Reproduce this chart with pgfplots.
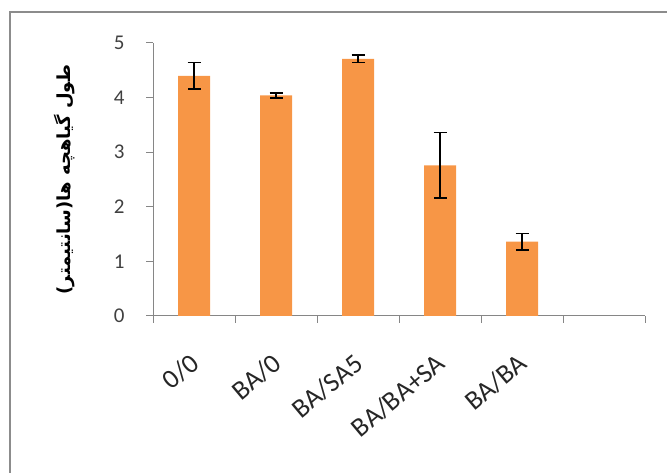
\documentclass[border=0pt]{standalone}
\usepackage{pgfplots}
\pgfplotsset{compat=1.18}
\usepackage{fontspec}
\setmainfont{Carlito}
\newfontfamily\persian[Script=Arabic]{DejaVu Sans}
\TeXXeTstate=1
\definecolor{barorange}{HTML}{F79646}
\definecolor{axisgray}{HTML}{868686}
\definecolor{ticktext}{HTML}{404040}
\definecolor{framegray}{HTML}{8C8C8C}
\begin{document}
\begin{tikzpicture}
\useasboundingbox (0pt,0pt) rectangle (667pt,473pt);
\draw[color=framegray, line width=1.5pt] (10pt,-10pt) -- (10pt,461pt) -- (700pt,461pt);
\begin{axis}[
  at={(153pt,157pt)}, anchor=south west,
  scale only axis, width=492pt, height=273pt,
  xmin=-0.5, xmax=5.5, ymin=0, ymax=5,
  axis x line=bottom, axis y line=left,
  axis line style={-, color=axisgray, line width=1pt},
  tick align=outside, major tick length=7pt,
  tick style={color=axisgray, line width=1pt},
  /pgf/number format/assume math mode=true,
  ytick={0,1,2,3,4,5},
  xtick={-0.5,0.5,1.5,2.5,3.5,4.5,5.5},
  x tick label as interval,
  xticklabels={0/0,BA/0,BA/SA5,BA/BA+SA,BA/BA,{}},
  y tick label style={font=\fontsize{21}{21}\selectfont, color=ticktext, xshift=-18pt},
  x tick label style={font=\fontsize{27}{27}\selectfont, color=black!85, xshift=-5pt, yshift=-24pt, rotate=40, anchor=north east},
  ylabel={\persian\bfseries\beginR طول گیاهچه ها(سانتیمتر)\endR},
  ylabel style={at={(axis description cs:-0.179,0.5)}, anchor=center, font=\fontsize{18}{18}\selectfont},
  clip=false,
]
\addplot[ybar, bar width=32pt, fill=barorange, draw=none,
  error bars/.cd, y dir=both, y explicit,
  error bar style={line width=1.6pt, black},
  error mark options={line width=1.6pt, mark size=6.5pt, black, rotate=90}]
coordinates {
  (0,4.40) +- (0,0.24)
  (1,4.04) +- (0,0.045)
  (2,4.71) +- (0,0.065)
  (3,2.76) +- (0,0.60)
  (4,1.36) +- (0,0.15)
};
\end{axis}
\end{tikzpicture}
\end{document}
